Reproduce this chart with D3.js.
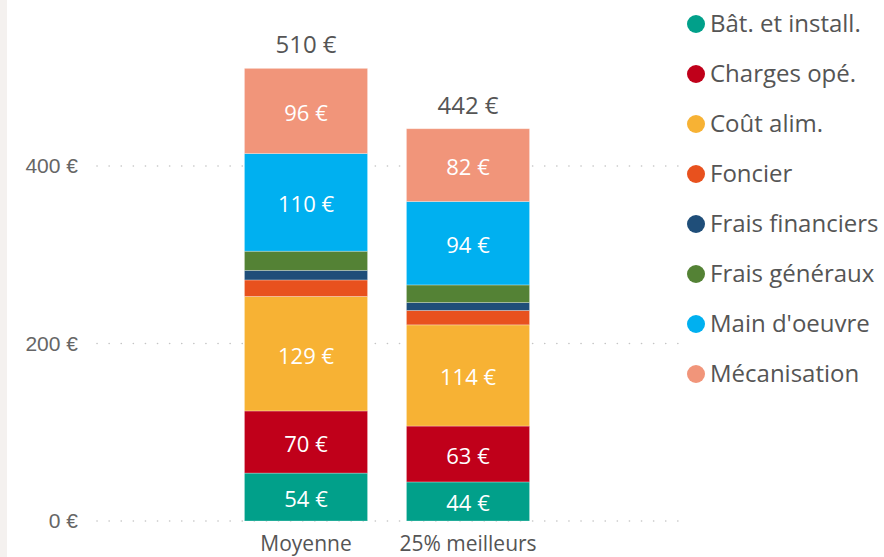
<!DOCTYPE html>
<html>
<head>
<meta charset="utf-8">
<script src="https://cdn.jsdelivr.net/npm/d3@7"></script>
<style>
  body { margin: 0; background: #fff; }
  svg { font-family: "Segoe UI", "Open Sans", sans-serif; }
</style>
</head>
<body>
<svg id="area" width="884" height="557"></svg>
<script>
// data
let categories = ["Moyenne", "25% meilleurs"];
let seriesNames = ["Bât. et install.", "Charges opé.", "Coût alim.", "Foncier",
                   "Frais financiers", "Frais généraux", "Main d'oeuvre", "Mécanisation"];
let seriesColors = ["#01A08A", "#C0001A", "#F7B234", "#E8511E",
                    "#1F4E79", "#548235", "#00B0F0", "#F1957A"];
let moyenne = [54, 70, 129, 18.6, 10.8, 21.6, 110, 96];
let meilleurs = [44, 63, 114, 16.3, 8.8, 19.9, 94, 82];
let yTicks = [0, 200, 400];
let labelled = ["Bât. et install.", "Charges opé.", "Coût alim.", "Main d'oeuvre", "Mécanisation"];

let table = categories.map((c, i) => {
    let row = { cat: c };
    let vals = i == 0 ? moyenne : meilleurs;
    seriesNames.forEach((s, j) => row[s] = vals[j]);
    row.total = d3.sum(vals);
    return row;
});

let svg = d3.select("#area");

// light strip at the left edge
svg.append("rect").attr("x", 0).attr("y", 0).attr("width", 7).attr("height", 557)
    .style("fill", "#f4f1ef");

let xScale = d3.scaleBand()
    .domain(categories)
    .range([225, 549])
    .paddingInner(0.24)
    .paddingOuter(0.12);
let yScale = d3.scaleLinear()
    .domain([0, 400])
    .range([521, 166]);

// grid lines
svg.append("g").selectAll("line")
    .data(yTicks)
    .join("line")
    .attr("x1", 97).attr("x2", 682)
    .attr("y1", d => yScale(d)).attr("y2", d => yScale(d))
    .style("stroke", "#c4c4c4")
    .style("stroke-width", "1.6px")
    .style("stroke-linecap", "round")
    .style("stroke-dasharray", "0.1,12");

let leftAxis = d3.axisLeft(yScale).tickValues(yTicks)
    .tickFormat(d => d + " €").tickSize(0).tickPadding(0);
svg.append("g")
    .attr("transform", "translate(78,0)")
    .call(leftAxis)
    .call(g => g.select(".domain").remove())
    .selectAll("text")
    .style("font-size", "21px")
    .style("fill", "#666");

let stack = d3.stack().keys(seriesNames);
let layers = stack(table);

let groups = svg.append("g").selectAll("g")
    .data(layers)
    .join("g")
    .style("fill", (d, i) => seriesColors[i]);

groups.selectAll("rect")
    .data(d => d.map(p => Object.assign(p, { key: d.key })))
    .join("rect")
    .attr("x", d => xScale(d.data.cat))
    .attr("width", xScale.bandwidth())
    .attr("y", d => yScale(d[1]))
    .attr("height", d => yScale(d[0]) - yScale(d[1]))
    .style("stroke", "rgba(255,255,255,0.35)")
    .style("stroke-width", "0.8px");

groups.selectAll("text")
    .data(d => d.filter(p => labelled.includes(d.key)))
    .join("text")
    .attr("x", d => xScale(d.data.cat) + xScale.bandwidth() / 2)
    .attr("y", d => (yScale(d[0]) + yScale(d[1])) / 2)
    .attr("dy", "0.45em")
    .attr("text-anchor", "middle")
    .style("fill", "#fff")
    .style("font-size", "22px")
    .text(d => Math.round(d[1] - d[0]) + " €");

// totals
svg.append("g").selectAll("text")
    .data(table)
    .join("text")
    .attr("x", d => xScale(d.cat) + xScale.bandwidth() / 2)
    .attr("y", d => yScale(d.total) - 15)
    .attr("text-anchor", "middle")
    .style("fill", "#555")
    .style("font-size", "24px")
    .text(d => Math.round(d.total) + " €");

// category labels
svg.append("g").selectAll("text")
    .data(categories)
    .join("text")
    .attr("x", d => xScale(d) + xScale.bandwidth() / 2)
    .attr("y", 551)
    .attr("text-anchor", "middle")
    .style("fill", "#555")
    .style("font-size", "21px")
    .text(d => d);

// legend
let legend = svg.append("g").selectAll("g")
    .data(seriesNames)
    .join("g")
    .attr("transform", (d, i) => "translate(696," + (24 + i * 50) + ")");
legend.append("circle")
    .attr("r", 9)
    .style("fill", (d, i) => seriesColors[i]);
legend.append("text")
    .attr("x", 14)
    .attr("dy", "0.35em")
    .style("fill", "#555")
    .style("font-size", "24px")
    .text(d => d);
</script>
</body>
</html>
